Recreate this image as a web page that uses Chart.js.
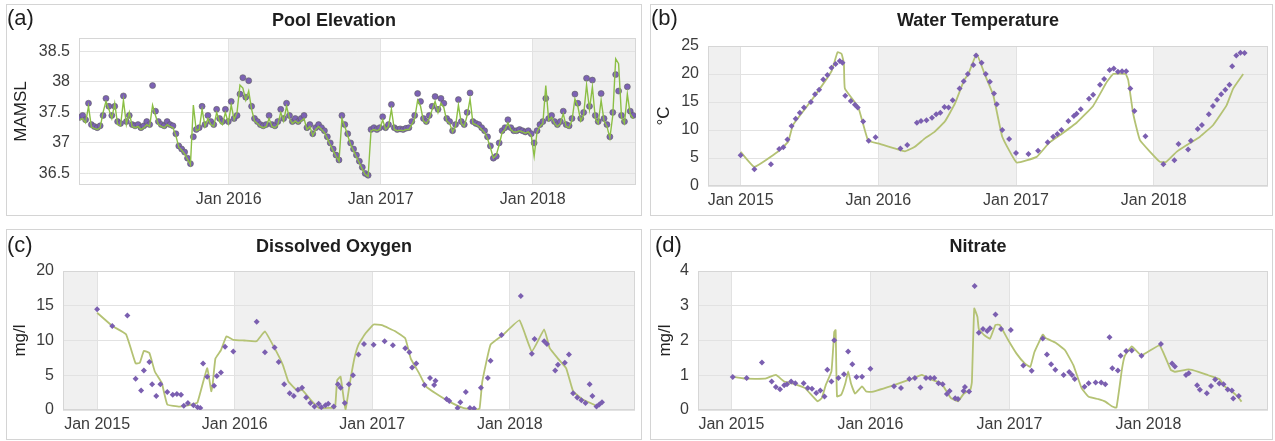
<!DOCTYPE html>
<html lang="en">
<head>
<meta charset="UTF-8" />
<title>Reservoir — observed vs simulated</title>
<script src="https://cdn.jsdelivr.net/npm/chart.js"></script>
<style>
  body { margin: 0; background: #fff; font-family: "Liberation Sans", Arial, sans-serif; }
  #page { position: relative; width: 1275px; height: 441px; overflow: hidden; }
  .panel { position: absolute; border: 1px solid #d4d4d4; box-sizing: border-box; }
  .panel canvas { position: absolute; left: 0; top: 0; }
  .tag { position: absolute; font-size: 22px; line-height: 22px; color: #1e1e1e; }
  .title { position: absolute; left: 327px; transform: translateX(-50%); white-space: nowrap;
           font-size: 18px; line-height: 18px; font-weight: bold; color: #1e1e1e; }
</style>
</head>
<body>
<div id="page">
  <div class="panel" style="left:6px; top:4px; width:636px; height:212px;">
    <canvas id="elevChart" width="634" height="210"></canvas>
    <div class="tag" style="left:0; top:2px;">(a)</div>
    <div class="title" style="top:6px;">Pool Elevation</div>
  </div>
  <div class="panel" style="left:650px; top:4px; width:623px; height:212px;">
    <canvas id="tempChart" width="621" height="210"></canvas>
    <div class="tag" style="left:0; top:2px;">(b)</div>
    <div class="title" style="top:6px;">Water Temperature</div>
  </div>
  <div class="panel" style="left:6px; top:229px; width:636px; height:211px;">
    <canvas id="doChart" width="634" height="209"></canvas>
    <div class="tag" style="left:0; top:4px;">(c)</div>
    <div class="title" style="top:7px;">Dissolved Oxygen</div>
  </div>
  <div class="panel" style="left:650px; top:229px; width:623px; height:211px;">
    <canvas id="no3Chart" width="621" height="209"></canvas>
    <div class="tag" style="left:4px; top:4px;">(d)</div>
    <div class="title" style="top:7px;">Nitrate</div>
  </div>
</div>

<script>
  // x axis is in decimal years
  const yearTicks = [2015, 2016, 2017, 2018];
  const shadedYears = [2014, 2016, 2018];

  // (a) Pool elevation (MAMSL), weekly readings from 8 Jan 2015
  const elevStart = 2015.02;
  const elevObs = [
    37.42, 37.45, 37.38, 37.65, 37.3, 37.27, 37.25, 37.28, 37.45, 37.73,
    37.6, 37.45, 37.6, 37.35, 37.32, 37.77, 37.35, 37.45, 37.3, 37.28,
    37.3, 37.25, 37.28, 37.35, 37.3, 37.94, 37.52, 37.35, 37.3, 37.28,
    37.35, 37.3, 37.28, 37.15, 36.95, 36.9, 36.85, 36.75, 36.66, 37.1,
    37.22, 37.25, 37.6, 37.3, 37.45, 37.35, 37.3, 37.55, 37.4, 37.35,
    37.55, 37.35,
    37.68, 37.4, 37.45, 37.8, 38.07, 37.75, 38.02, 37.6, 37.4, 37.35,
    37.3, 37.28, 37.3, 37.45, 37.3, 37.28, 37.35, 37.55, 37.4, 37.65,
    37.45, 37.35, 37.4, 37.35, 37.4, 37.45, 37.25, 37.3, 37.15, 37.25,
    37.3, 37.25, 37.2, 37.1, 37.0, 36.9, 36.8, 36.72, 37.45, 37.3,
    37.15, 37.0, 36.9, 36.8, 36.7, 36.6, 36.5, 36.47, 37.22, 37.25,
    37.22, 37.25,
    37.43, 37.25, 37.3, 37.63, 37.25, 37.22, 37.23, 37.22, 37.24, 37.25,
    37.35, 37.45, 37.81, 37.68, 37.4, 37.35, 37.45, 37.6, 37.76, 37.55,
    37.73, 37.65, 37.4, 37.35, 37.2, 37.3, 37.71, 37.35, 37.3, 37.5,
    37.82, 37.35, 37.32, 37.3, 37.25, 37.2, 37.1, 36.95, 36.75, 36.78,
    37.0, 37.2, 37.25, 37.38, 37.25, 37.2, 37.2, 37.22, 37.2, 37.18,
    37.2, 37.15,
    37.0, 37.2, 37.3, 37.35, 37.73, 37.4, 37.45, 37.35, 37.3, 37.35,
    37.52, 37.3, 37.28, 37.4, 37.8, 37.65, 37.4, 37.5, 38.06, 37.6,
    38.03, 37.45, 37.35, 37.81, 37.4, 37.3, 37.1, 37.5, 38.12, 37.85,
    37.45, 37.35, 37.92, 37.52, 37.45
  ];
  const elevSim = [
    37.38, 37.4, 37.33, 37.6, 37.26, 37.24, 37.22, 37.25, 37.5, 37.68,
    37.55, 37.4, 37.65, 37.3, 37.28, 37.7, 37.3, 37.5, 37.27, 37.25,
    37.27, 37.22, 37.25, 37.3, 37.27, 37.62, 37.45, 37.3, 37.27, 37.25,
    37.3, 37.27, 37.25, 37.12, 36.93, 36.88, 36.82, 36.73, 36.64, 37.62,
    37.2, 37.22, 37.55, 37.27, 37.4, 37.3, 37.27, 37.5, 37.35, 37.3,
    37.5, 37.32,
    37.62, 37.38, 37.5, 37.95, 37.9, 37.7, 37.85, 37.55, 37.36, 37.32,
    37.27, 37.25, 37.27, 37.4, 37.27, 37.25, 37.3, 37.5, 37.36, 37.6,
    37.4, 37.32, 37.36, 37.32, 37.36, 37.4, 37.22, 37.27, 37.12, 37.22,
    37.27, 37.22, 37.17, 37.07, 36.97, 36.87, 36.78, 36.7, 37.4, 37.27,
    37.12, 36.97, 36.87, 36.77, 36.67, 36.57, 36.48, 36.45, 37.2, 37.22,
    37.2, 37.22,
    37.38, 37.22, 37.27, 37.55, 37.22, 37.2, 37.21, 37.2, 37.22, 37.22,
    37.3, 37.4, 37.7, 37.6, 37.36, 37.32, 37.4, 37.55, 37.68, 37.5,
    37.65, 37.58, 37.36, 37.32, 37.18, 37.27, 37.62, 37.32, 37.27, 37.45,
    37.72, 37.32, 37.3, 37.27, 37.22, 37.17, 37.07, 36.92, 36.75, 36.8,
    36.97, 37.17, 37.22, 37.33, 37.22, 37.18, 37.18, 37.2, 37.18, 37.16,
    37.18, 37.12,
    36.78, 37.18, 37.27, 37.32, 37.94, 37.37, 37.42, 37.32, 37.27, 37.32,
    37.48, 37.27, 37.25, 37.37, 37.72, 37.6, 37.36, 37.46, 37.95, 37.55,
    37.92, 37.4, 37.32, 37.7, 37.36, 37.27, 37.08, 37.45, 38.38, 38.3,
    37.42, 37.32, 37.8, 37.47, 37.4
  ];

  // (b) Water temperature (°C)
  const tempObsT = [2015.00, 2015.10, 2015.22, 2015.28, 2015.31, 2015.34, 2015.37, 2015.40, 2015.43, 2015.46,
    2015.51, 2015.54, 2015.57, 2015.60, 2015.63, 2015.66, 2015.69, 2015.72, 2015.74, 2015.76,
    2015.80, 2015.83, 2015.85, 2015.89, 2015.93, 2015.98, 2016.16, 2016.21, 2016.28, 2016.31,
    2016.35, 2016.39, 2016.42, 2016.45, 2016.48, 2016.51, 2016.54, 2016.59, 2016.62, 2016.65,
    2016.69, 2016.71, 2016.75, 2016.78, 2016.81, 2016.84, 2016.86, 2016.90, 2016.95, 2017.00,
    2017.09, 2017.16, 2017.23, 2017.27, 2017.30, 2017.33, 2017.38, 2017.42, 2017.44, 2017.47,
    2017.53, 2017.56, 2017.61, 2017.64, 2017.68, 2017.71, 2017.74, 2017.77, 2017.80, 2017.83,
    2017.86, 2017.94, 2018.07, 2018.15, 2018.18, 2018.25, 2018.27, 2018.32, 2018.35, 2018.40,
    2018.43, 2018.46, 2018.49, 2018.52, 2018.55, 2018.57, 2018.60, 2018.63, 2018.66];
  const tempObs = [5.5, 3.0, 3.9, 6.6, 6.9, 8.3, 10.7, 12.0, 13.1, 14.0,
    15.0, 16.4, 17.2, 19.0, 19.8, 21.1, 21.8, 22.3, 22.0, 16.1,
    15.2, 14.5, 14.0, 11.5, 8.1, 8.7, 6.7, 7.3, 11.3, 11.6,
    11.75, 12.2, 12.8, 13.1, 14.1, 14.0, 15.3, 17.4, 18.7, 20.0,
    21.6, 23.3, 22.0, 20.0, 18.6, 16.5, 14.6, 10.0, 8.4, 5.9,
    5.7, 6.3, 7.8, 8.8, 9.3, 10.0, 11.6, 12.5, 12.9, 13.7,
    15.6, 16.3, 18.1, 19.1, 20.7, 21.0, 20.4, 20.5, 20.5, 17.4,
    13.4, 8.9, 3.9, 4.6, 7.5, 6.5, 8.1, 10.2, 10.9, 12.8,
    14.3, 15.4, 16.4, 17.2, 18.1, 21.4, 23.3, 23.8, 23.75];
  const tempSimT = [2015.00, 2015.10, 2015.27, 2015.345, 2015.38, 2015.515, 2015.66, 2015.704, 2015.733, 2015.75,
    2015.757, 2015.854, 2015.926, 2016.0, 2016.193, 2016.265, 2016.338, 2016.41, 2016.483, 2016.556,
    2016.623, 2016.654, 2016.714, 2016.775, 2016.835, 2016.90, 2017.004, 2017.15, 2017.24, 2017.32,
    2017.44, 2017.56, 2017.66, 2017.706, 2017.796, 2017.815, 2017.851, 2017.90, 2018.045, 2018.09,
    2018.166, 2018.24, 2018.336, 2018.432, 2018.529, 2018.577, 2018.65];
  const tempSim = [6.1, 3.4, 6.1, 7.9, 10.9, 15.3, 20.5, 23.9, 23.6, 21.9,
    17.4, 14.1, 8.1, 7.6, 6.2, 7.0, 8.5, 9.7, 11.5, 14.7,
    18.9, 20.0, 23.6, 19.8, 16.2, 8.8, 4.2, 5.2, 7.7, 9.1,
    11.3, 14.3, 18.6, 20.0, 20.0, 18.9, 12.9, 8.2, 4.3, 4.3,
    6.1, 7.3, 8.8, 10.9, 14.4, 17.4, 20.0];

  // (c) Dissolved oxygen (mg/l)
  const doObsT = [2015.00, 2015.11, 2015.22, 2015.28, 2015.32, 2015.34, 2015.38, 2015.40, 2015.43, 2015.46,
    2015.51, 2015.55, 2015.58, 2015.61, 2015.63, 2015.66, 2015.70, 2015.73, 2015.75, 2015.77,
    2015.80, 2015.85, 2015.87, 2015.90, 2015.93, 2015.99, 2016.16, 2016.22, 2016.29, 2016.32,
    2016.36, 2016.40, 2016.43, 2016.46, 2016.49, 2016.52, 2016.55, 2016.58, 2016.61, 2016.63,
    2016.66, 2016.68, 2016.72, 2016.75, 2016.77, 2016.80, 2016.83, 2016.86, 2016.90, 2016.94,
    2017.01, 2017.09, 2017.15, 2017.24, 2017.27, 2017.29, 2017.32, 2017.38, 2017.42, 2017.45,
    2017.46, 2017.54, 2017.56, 2017.62, 2017.64, 2017.68, 2017.71, 2017.74, 2017.79, 2017.84,
    2017.86, 2017.94, 2018.08, 2018.16, 2018.18, 2018.25, 2018.27, 2018.33, 2018.35, 2018.40,
    2018.43, 2018.46, 2018.49, 2018.52, 2018.55, 2018.58, 2018.60, 2018.63, 2018.65, 2018.67];
  const doObs = [14.5, 12.1, 13.6, 4.5, 2.8, 5.7, 6.9, 3.7, 2.0, 3.7,
    2.6, 2.2, 2.3, 2.2, 0.6, 1.0, 0.7, 0.4, 0.3, 6.7,
    4.8, 3.5, 4.9, 5.4, 9.1, 8.4, 12.7, 8.3, 9.0, 6.9,
    3.7, 2.4, 2.0, 2.9, 3.2, 1.8, 1.0, 0.5, 0.9, 0.4,
    0.7, 0.9, 0.5, 3.7, 3.2, 1.0, 3.7, 5.0, 8.0, 9.5,
    9.4, 9.9, 9.3, 8.9, 8.3, 6.1, 6.7, 3.6, 4.6, 3.6,
    4.2, 1.6, 1.3, 0.3, 1.1, 2.6, 0.3, 0.2, 3.2, 4.6,
    7.1, 10.8, 16.4, 8.1, 10.2, 9.9, 9.5, 5.7, 6.5, 6.8,
    8.0, 2.4, 1.8, 1.4, 1.0, 3.7, 2.0, 0.5, 0.8, 1.1];
  const doSimT = [2015.00, 2015.11, 2015.21, 2015.28, 2015.31, 2015.34, 2015.38, 2015.42, 2015.47, 2015.51,
    2015.60, 2015.69, 2015.73, 2015.80, 2015.83, 2015.84, 2015.86, 2015.90, 2015.94, 2015.99,
    2016.07, 2016.16, 2016.22, 2016.29, 2016.35, 2016.39, 2016.46, 2016.49, 2016.55, 2016.61,
    2016.71, 2016.73, 2016.745, 2016.77, 2016.805, 2016.84, 2016.87, 2016.90, 2016.95, 2017.01,
    2017.07, 2017.17, 2017.24, 2017.28, 2017.34, 2017.39, 2017.46, 2017.56, 2017.66, 2017.75,
    2017.78, 2017.80, 2017.86, 2017.95, 2018.07, 2018.16, 2018.25, 2018.29, 2018.35, 2018.41,
    2018.46, 2018.53, 2018.61, 2018.64];
  const doSim = [14.0, 12.1, 10.9, 6.7, 6.8, 8.5, 8.2, 5.5, 3.9, 0.8,
    0.5, 0.8, 1.1, 6.0, 2.7, 3.7, 7.4, 8.6, 10.6, 10.1,
    10.0, 9.9, 11.3, 8.9, 6.5, 4.1, 2.7, 2.9, 1.5, 0.3,
    0.3, 0.3, 4.3, 4.8, 0.05, 4.2, 7.4, 9.4, 11.0, 12.3,
    12.2, 11.3, 10.3, 7.4, 5.3, 3.4, 2.4, 1.2, 0.3, 0.05,
    0.2, 4.1, 9.4, 10.8, 12.9, 8.4, 11.6, 8.9, 7.4, 6.0,
    2.7, 1.5, 0.8, 0.4];

  // (d) Nitrate (mg/l)
  const no3ObsT = [2015.01, 2015.11, 2015.22, 2015.29, 2015.32, 2015.35, 2015.38, 2015.40, 2015.43, 2015.46,
    2015.52, 2015.55, 2015.58, 2015.61, 2015.64, 2015.67, 2015.69, 2015.72, 2015.74, 2015.77,
    2015.81, 2015.84, 2015.87, 2015.90, 2015.94, 2016.00, 2016.17, 2016.22, 2016.28, 2016.32,
    2016.36, 2016.40, 2016.43, 2016.46, 2016.49, 2016.52, 2016.55, 2016.57, 2016.61, 2016.63,
    2016.67, 2016.68, 2016.71, 2016.75, 2016.78, 2016.81, 2016.84, 2016.86, 2016.90, 2016.94,
    2017.01, 2017.10, 2017.16, 2017.24, 2017.27, 2017.30, 2017.33, 2017.39, 2017.43, 2017.45,
    2017.47, 2017.54, 2017.57, 2017.62, 2017.66, 2017.69, 2017.72, 2017.74, 2017.78, 2017.80,
    2017.84, 2017.88, 2017.95, 2018.09, 2018.17, 2018.19, 2018.27, 2018.29, 2018.35, 2018.37,
    2018.42, 2018.45, 2018.48, 2018.51, 2018.54, 2018.57, 2018.60, 2018.61, 2018.65];
  const no3Obs = [0.95, 0.92, 1.37, 0.82, 0.66, 0.60, 0.71, 0.74, 0.82, 0.77,
    0.77, 0.63, 0.61, 0.49, 0.56, 0.39, 1.16, 0.82, 2.01, 0.92,
    1.03, 1.68, 1.32, 0.95, 0.96, 1.19, 0.68, 0.63, 0.89, 0.92,
    0.65, 0.92, 0.92, 0.92, 0.77, 0.74, 0.46, 0.55, 0.34, 0.32,
    0.55, 0.66, 0.53, 3.57, 2.22, 2.33, 2.27, 2.35, 2.75, 2.33,
    2.30, 1.28, 1.13, 2.06, 1.60, 1.32, 1.16, 1.01, 1.09, 1.01,
    0.89, 0.67, 0.77, 0.79, 0.79, 0.74, 2.09, 1.20, 1.14, 1.56,
    1.70, 1.71, 1.56, 1.90, 1.34, 1.25, 1.01, 1.06, 0.71, 0.58,
    0.48, 0.69, 0.88, 0.76, 0.74, 0.59, 0.56, 0.33, 0.40];
  const no3SimT = [2015.00, 2015.10, 2015.24, 2015.32, 2015.38, 2015.46, 2015.53, 2015.62, 2015.65, 2015.68,
    2015.72, 2015.74, 2015.75, 2015.76, 2015.79, 2015.82, 2015.84, 2015.86, 2015.89, 2015.94,
    2015.97, 2016.01, 2016.18, 2016.30, 2016.37, 2016.44, 2016.51, 2016.58, 2016.63, 2016.67,
    2016.72, 2016.73, 2016.747, 2016.77, 2016.78, 2016.82, 2016.86, 2016.88, 2016.90, 2016.93,
    2016.99, 2017.05, 2017.11, 2017.15, 2017.18, 2017.24, 2017.26, 2017.33, 2017.40, 2017.46,
    2017.52, 2017.57, 2017.64, 2017.69, 2017.74, 2017.77, 2017.81, 2017.83, 2017.88, 2017.95,
    2018.08, 2018.16, 2018.19, 2018.29, 2018.36, 2018.43, 2018.51, 2018.55, 2018.60, 2018.64,
    2018.67];
  const no3Sim = [0.96, 0.90, 0.90, 1.01, 0.82, 0.74, 0.63, 0.25, 0.34, 0.73,
    1.11, 2.25, 2.30, 0.39, 0.44, 0.77, 1.11, 0.77, 0.47, 0.68,
    0.53, 0.52, 0.73, 0.90, 1.01, 0.87, 0.77, 0.34, 0.25, 0.46,
    0.60, 0.80, 2.92, 2.68, 2.33, 2.15, 2.05, 2.25, 2.45, 2.45,
    2.02, 1.63, 1.34, 1.24, 1.67, 2.17, 2.07, 1.94, 1.72, 1.29,
    0.62, 0.38, 0.31, 0.24, 0.10, 0.07, 1.19, 1.56, 1.83, 1.57,
    1.86, 1.16, 1.10, 1.17, 1.10, 1.00, 0.89, 0.67, 0.53, 0.39,
    0.24];

  const pairs = (xs, ys) => xs.map((x, i) => ({ x, y: ys[i] }));
  const elevT = elevObs.map((_, i) => elevStart + i * 7 / 365.25);

  Chart.defaults.font.family = '"Liberation Sans", Arial, sans-serif';
  const tickFont = { size: 16 };
  const tickColor = '#3c3c3c';
  const gridColor = '#e2e2e2';

  // grey background for alternate years + plot frame
  const yearShade = {
    id: 'yearShade',
    beforeDraw(chart) {
      const { ctx, chartArea: a, scales: { x } } = chart;
      ctx.save();
      ctx.beginPath();
      ctx.rect(a.left, a.top, a.right - a.left, a.bottom - a.top);
      ctx.clip();
      ctx.fillStyle = '#f0f0f0';
      shadedYears.forEach(yr => {
        const x0 = x.getPixelForValue(yr);
        const x1 = x.getPixelForValue(yr + 1);
        ctx.fillRect(x0, a.top, x1 - x0, a.bottom - a.top);
      });
      ctx.restore();
    },
    beforeDatasetsDraw(chart) {
      const { ctx, chartArea: a } = chart;
      ctx.save();
      ctx.strokeStyle = '#d6d6d6';
      ctx.lineWidth = 1;
      ctx.strokeRect(a.left + 0.5, a.top + 0.5, a.right - a.left - 1, a.bottom - a.top - 1);
      ctx.restore();
    }
  };

  function panelChart(id, p) {
    const obsSet = {
      label: 'Observed', data: p.obs, showLine: false,
      pointStyle: p.pointStyle, pointRadius: p.pointRadius,
      backgroundColor: p.obsFill, borderColor: p.obsEdge, borderWidth: p.obsEdgeW
    };
    const simSet = {
      label: 'Simulated', data: p.sim, showLine: true, pointRadius: 0,
      borderColor: p.simColor, borderWidth: p.simWidth, tension: p.tension
    };
    return new Chart(document.getElementById(id), {
      type: 'scatter',
      data: { datasets: p.simOnTop ? [simSet, obsSet] : [obsSet, simSet] },
      options: {
        responsive: false,
        animation: false,
        events: [],
        layout: { padding: { left: 0, top: p.top, right: p.right, bottom: 0 } },
        plugins: { legend: { display: false }, tooltip: { enabled: false } },
        scales: {
          x: {
            type: 'linear', min: p.xmin, max: p.xmax,
            afterBuildTicks: s => { s.ticks = yearTicks.filter(v => v >= s.min && v <= s.max).map(v => ({ value: v })); },
            afterFit: s => { s.height = p.bottom; },
            ticks: { callback: v => 'Jan ' + v, color: tickColor, font: tickFont, padding: 5, maxRotation: 0, autoSkip: false },
            grid: { color: gridColor, drawTicks: false },
            border: { display: false }
          },
          y: {
            min: p.ymin, max: p.ymax,
            afterBuildTicks: s => { s.ticks = p.yticks.map(v => ({ value: v })); },
            afterFit: s => { s.width = p.left; },
            ticks: { callback: v => String(v), color: tickColor, font: tickFont, padding: 9 },
            title: { display: true, text: p.ytitle, color: '#222', font: { size: 17 }, padding: { top: p.titlePad, bottom: 0 } },
            grid: { color: gridColor, drawTicks: false },
            border: { display: false }
          }
        }
      },
      plugins: [yearShade]
    });
  }

  const purple = '#7b5fb0';
  const olive = '#b4c274';

  panelChart('elevChart', {
    obs: pairs(elevT, elevObs), sim: pairs(elevT, elevSim),
    xmin: 2015.015, xmax: 2018.68, ymin: 36.31, ymax: 38.72,
    yticks: [36.5, 37, 37.5, 38, 38.5], ytitle: 'MAMSL', titlePad: 4,
    left: 72, right: 5, top: 33, bottom: 30,
    pointStyle: 'circle', pointRadius: 3, obsFill: '#7c62b4', obsEdge: 'rgba(95,95,95,0.75)', obsEdgeW: 0.8,
    simColor: '#8cbf45', simWidth: 1.4, tension: 0, simOnTop: true
  });

  panelChart('tempChart', {
    obs: pairs(tempObsT, tempObs), sim: pairs(tempSimT, tempSim),
    xmin: 2014.763, xmax: 2018.83, ymin: 0, ymax: 25,
    yticks: [0, 5, 10, 15, 20, 25], ytitle: '°C', titlePad: 3,
    left: 57, right: 4, top: 41, bottom: 29,
    pointStyle: 'rectRot', pointRadius: 3, obsFill: purple, obsEdge: purple, obsEdgeW: 0,
    simColor: olive, simWidth: 1.8, tension: 0.1, simOnTop: false
  });

  panelChart('doChart', {
    obs: pairs(doObsT, doObs), sim: pairs(doSimT, doSim),
    xmin: 2014.752, xmax: 2018.91, ymin: 0, ymax: 20,
    yticks: [0, 5, 10, 15, 20], ytitle: 'mg/l', titlePad: 3,
    left: 56, right: 6, top: 41, bottom: 29,
    pointStyle: 'rectRot', pointRadius: 3, obsFill: purple, obsEdge: purple, obsEdgeW: 0,
    simColor: olive, simWidth: 1.8, tension: 0.1, simOnTop: false
  });

  panelChart('no3Chart', {
    obs: pairs(no3ObsT, no3Obs), sim: pairs(no3SimT, no3Sim),
    xmin: 2014.76, xmax: 2018.86, ymin: 0, ymax: 4,
    yticks: [0, 1, 2, 3, 4], ytitle: 'mg/l', titlePad: 4,
    left: 47, right: 3, top: 41, bottom: 29,
    pointStyle: 'rectRot', pointRadius: 3, obsFill: purple, obsEdge: purple, obsEdgeW: 0,
    simColor: olive, simWidth: 1.8, tension: 0.1, simOnTop: false
  });
</script>
</body>
</html>
